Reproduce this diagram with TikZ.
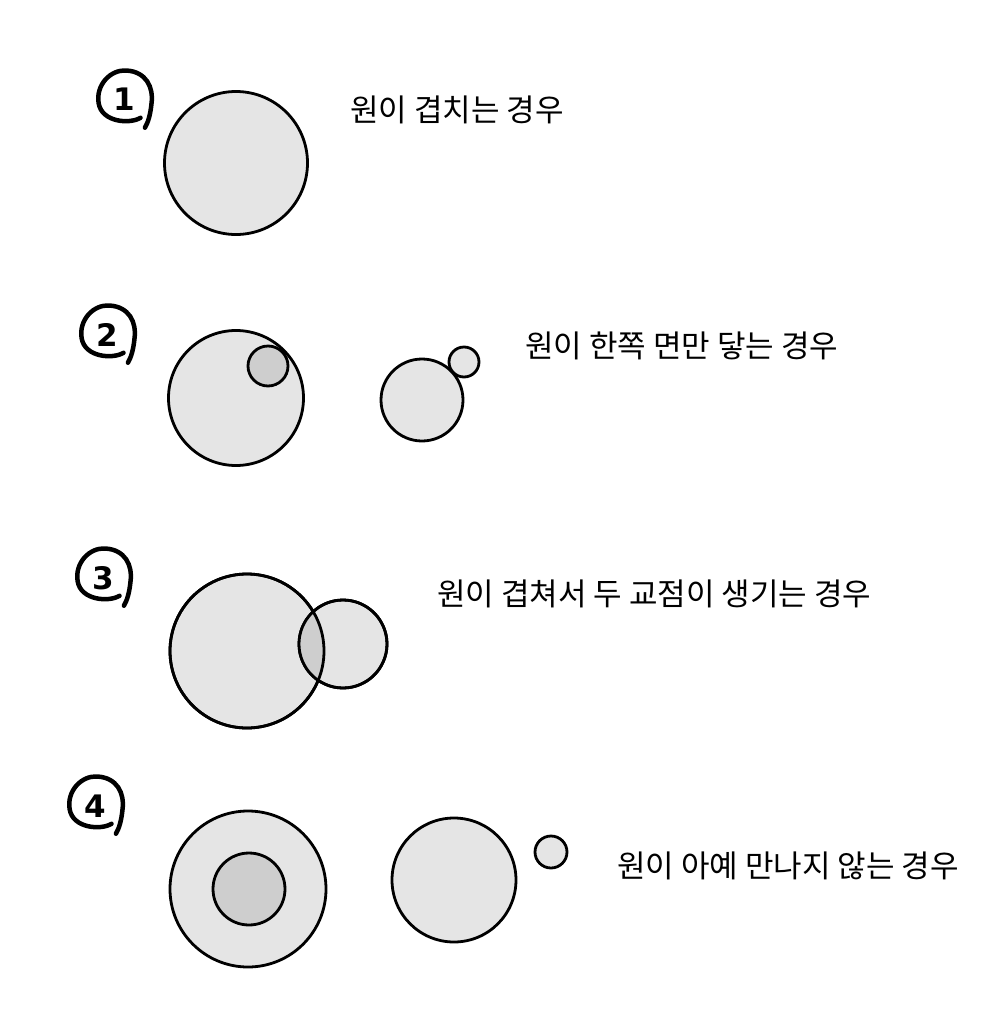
\documentclass[tikz,border=0pt]{standalone}
\usepackage{fontspec}
\newfontfamily\kr{Noto Sans CJK KR}
\newfontfamily\hand{DejaVu Sans}
\begin{document}
\begin{tikzpicture}[x=1pt,y=-1pt,
  ring/.style={draw=black,line width=2.8pt,fill=lightg},
  ringdark/.style={draw=black,line width=2.8pt,fill=darkg},
  lbl/.style={font=\kr\fontsize{31}{36}\selectfont,anchor=west,inner sep=0pt},
  loopline/.style={line width=4.5pt,line cap=round,line join=round},
  digit/.style={font=\hand\bfseries\fontsize{31}{31}\selectfont,inner sep=0pt}]
\definecolor{lightg}{HTML}{E5E5E5}
\definecolor{darkg}{HTML}{CECECE}
\useasboundingbox (0,0) rectangle (1000,1023);
\fill[white] (0,0) rectangle (1000,1023);
\newcommand{\handloop}[2]{%
  \begin{scope}[shift={(#1,#2)},scale=1.1]
  \draw[loopline] (15,18) .. controls (5,24) and (-20,22) .. (-23,5)
   .. controls (-26,-12) and (-12,-26) .. (2,-25)
   .. controls (20,-24) and (27,-10) .. (25,5)
   .. controls (24,15) and (22,22) .. (19,27);
  \end{scope}}

% ---- 1 ----
\handloop{124}{98}
\node[digit] (n1) at (124,99) {1};
\draw[ring] (236,163) circle (71.5);
\node[lbl] (t1) at (350,110) {원이 겹치는 경우};

% ---- 2 ----
\handloop{107}{333}
\node[digit] (n2) at (107,335) {2};
\draw[ring] (236,398) circle (67.5);
\draw[ringdark] (268,366) circle (20);
\draw[ring] (422,400) circle (41);
\draw[ring] (464,362) circle (15);
\node[lbl] (t2) at (525,346) {원이 한쪽 면만 닿는 경우};

% ---- 3 ----
\handloop{103}{576}
\node[digit] (n3) at (103,578) {3};
\draw[ring] (247,651) circle (77);
\draw[ring] (343,644) circle (44);
\begin{scope}
  \clip (247,651) circle (77);
  \fill[darkg] (343,644) circle (44);
\end{scope}
\draw[line width=2.8pt] (247,651) circle (77);
\draw[line width=2.8pt] (343,644) circle (44);
\node[lbl] (t3) at (437,594) {원이 겹쳐서 두 교점이 생기는 경우};

% ---- 4 ----
\handloop{95}{804}
\node[digit] (n4) at (95,806) {4};
\draw[ring] (248,889) circle (78);
\draw[ringdark] (249,889) circle (36);
\draw[ring] (454,880) circle (62);
\draw[ring] (551,852) circle (16);
\node[lbl] (t4) at (617,866) {원이 아예 만나지 않는 경우};
\end{tikzpicture}
\end{document}
